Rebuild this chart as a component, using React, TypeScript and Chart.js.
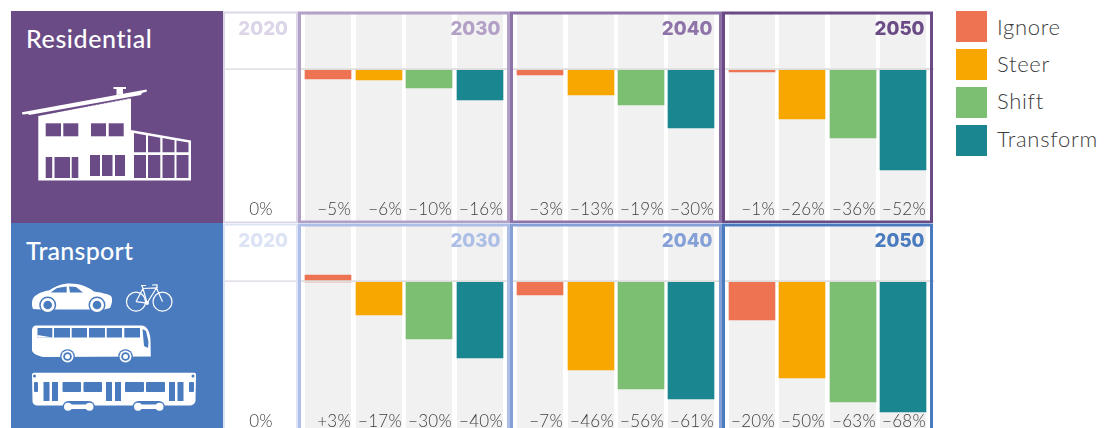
import React, { useEffect, useRef } from "react";
import { Chart, registerables } from "chart.js";

Chart.register(...registerables);

const categories = ["Ignore", "Steer", "Shift", "Transform"];
const categoryColors = ["#ee7353", "#f8a600", "#7cbe72", "#1a8790"];

const baseYear = ["2020"];
const baseValue = [0];
const baseLabel = ["0%"];

const residential2030 = [-4.7, -5.2, -9.4, -15.6];
const residential2040 = [-2.6, -13, -18.2, -30.2];
const residential2050 = [-1, -25.4, -35.3, -52.1];
const transport2030 = [3.6, -17.3, -29.8, -39.7];
const transport2040 = [-6.9, -46, -55.9, -61.1];
const transport2050 = [-19.9, -50, -62.5, -67.7];

const residential2030Labels = ["\u22125%", "\u22126%", "\u221210%", "\u221216%"];
const residential2040Labels = ["\u22123%", "\u221213%", "\u221219%", "\u221230%"];
const residential2050Labels = ["\u22121%", "\u221226%", "\u221236%", "\u221252%"];
const transport2030Labels = ["+3%", "\u221217%", "\u221230%", "\u221240%"];
const transport2040Labels = ["\u22127%", "\u221246%", "\u221256%", "\u221261%"];
const transport2050Labels = ["\u221220%", "\u221250%", "\u221263%", "\u221268%"];

const residentialTones = ["#dcd5e8", "#b3a0c6", "#8e73a8", "#6b4b86"];
const transportTones = ["#dbe3f5", "#adbfe6", "#84a0d6", "#4a7bbf"];

const FONT = "Lato, 'Open Sans', sans-serif";
const TEXT = "#3d3d3d";
const Y_MAX = 29.17;
const Y_MIN = -78.65;

const PANEL_LEFT = [298, 510, 722];
const PANEL_FRAME = [212, 212, 211];
const PANEL_PAD = [
  [4.67, 4.66],
  [5, 5.4],
  [4.7, 5.7],
];

type PanelProps = {
  left: number;
  top: number;
  width: number;
  frame: number;
  pad: number[];
  year: string;
  tone: string;
  labels: string[];
  values: number[];
  text: string[];
  colors: string[];
  base?: boolean;
};

const panelPlugin = (p: PanelProps) => ({
  id: "panel",
  beforeDatasetsDraw(chart: any) {
    const { ctx, chartArea } = chart;
    const meta = chart.getDatasetMeta(0);
    // Snap bars to whole pixels, as the original is crisp.
    meta.data.forEach((bar: any) => {
      const w = bar.width;
      bar.x = Math.round(bar.x - w / 2) + w / 2;
      bar.y = Math.round(bar.y);
      bar.base = Math.round(bar.base);
    });
    if (p.base) return;
    ctx.save();
    ctx.fillStyle = "#f1f1f1";
    meta.data.forEach((bar: any) => {
      const w = bar.width;
      ctx.fillRect(bar.x - w / 2, chartArea.top, w, chartArea.bottom - chartArea.top);
    });
    ctx.restore();
  },
  afterDatasetsDraw(chart: any) {
    const { ctx, scales, width } = chart;
    const zero = scales.y.getPixelForValue(0);
    ctx.save();
    ctx.strokeStyle = p.base ? "#e4e2e8" : "#dddddd";
    ctx.lineWidth = 1.7;
    ctx.beginPath();
    ctx.moveTo(0, zero - 0.8);
    ctx.lineTo(width, zero - 0.8);
    ctx.stroke();

    // Value labels
    ctx.fillStyle = TEXT;
    ctx.font = `300 17px ${FONT}`;
    ctx.textBaseline = "alphabetic";
    (ctx as any).letterSpacing = "0.3px";
    const meta = chart.getDatasetMeta(0);
    meta.data.forEach((bar: any, i: number) => {
      if (p.base) {
        ctx.textAlign = "center";
        ctx.fillText(p.text[i], bar.x, 204);
      } else {
        ctx.textAlign = "right";
        ctx.fillText(p.text[i], bar.x + bar.width / 2, 204);
      }
    });
    (ctx as any).letterSpacing = "0px";

    // Panel frame
    ctx.strokeStyle = p.tone;
    ctx.lineWidth = p.base ? 2 : 3;
    const inset = ctx.lineWidth / 2;
    ctx.strokeRect(inset, inset + 0.5, p.frame - inset * 2, 212 - inset * 2);

    // Year
    ctx.fillStyle = p.tone;
    ctx.font = `800 18.7px Inter, ${FONT}`;
    ctx.textAlign = "right";
    ctx.fillText(p.year, width - (p.base ? 10 : 9.5), 24);
    ctx.restore();
  },
});

function Panel(p: PanelProps) {
  const ref = useRef<HTMLCanvasElement>(null);
  useEffect(() => {
    const chart = new Chart(ref.current!, {
      type: "bar",
      data: {
        labels: p.labels,
        datasets: [
          {
            label: p.year,
            data: p.values,
            backgroundColor: p.colors,
            barThickness: 46,
            borderWidth: 0,
          },
        ],
      },
      options: {
        responsive: false,
        animation: false,
        devicePixelRatio: 1,
        layout: {
          padding: { left: p.pad[0], right: p.pad[1], top: 3, bottom: 2 },
        },
        plugins: { legend: { display: false }, tooltip: { enabled: false } },
        scales: {
          x: { display: false },
          y: { display: false, min: Y_MIN, max: Y_MAX },
        },
      },
      plugins: [panelPlugin(p)],
    } as any);
    return () => chart.destroy();
  }, []);
  return (
    <canvas
      ref={ref}
      width={p.width}
      height={212}
      style={{ position: "absolute", left: p.left, top: p.top, width: p.width, height: 212, display: "block" }}
    />
  );
}

function Row({ top, tones, series, text }: { top: number; tones: string[]; series: number[][]; text: string[][] }) {
  return (
    <>
      <Panel left={223} top={top} width={75} frame={75} pad={[2, 2]} year="2020" tone={tones[0]} labels={baseYear} values={baseValue} text={baseLabel} colors={["#ffffff"]} base />
      {[0, 1, 2].map((i) => (
        <Panel
          key={i}
          left={PANEL_LEFT[i]}
          top={top}
          width={212}
          frame={PANEL_FRAME[i]}
          pad={PANEL_PAD[i]}
          year={String(2030 + i * 10)}
          tone={tones[i + 1]}
          labels={categories}
          values={series[i]}
          text={text[i]}
          colors={categoryColors}
        />
      ))}
    </>
  );
}

function House({ c }: { c: string }) {
  const rects = [
    [45.7, 123.3, 15.3, 13], [63.3, 123.3, 15, 13], [91, 123.3, 15, 13], [108.7, 123.3, 15, 13],
    [45.7, 157, 6.5, 21], [54.5, 157, 15.5, 21], [71.7, 157, 6.6, 21],
    [90, 155, 10, 21], [102, 155, 10.5, 21], [115, 155, 10, 21],
    [134, 155, 12, 23], [148, 155, 12.3, 23], [162.5, 155, 12, 23], [176.5, 155, 12, 23],
  ];
  return (
    <svg width={223} height={223} style={{ position: "absolute", left: 0, top: 0 }}>
      <polygon points="22,112.3 146.5,89.5 147,91.6 142,93 141,95 29,115 28.5,114 22.3,114.5" fill="#fff" />
      <polygon points="113.5,87 126,87 126,89 123,89 123,94 116.5,95 116.5,89 113.5,89" fill="#fff" />
      <polygon points="38.3,116 131,98 131,130 191,140.5 191,180.5 38.3,180.5" fill="#fff" />
      {rects.map((r, i) => (
        <rect key={i} x={r[0]} y={r[1]} width={r[2]} height={r[3]} fill={c} />
      ))}
      <polygon points="134,133 146,135.2 146,152.3 134,152.3" fill={c} />
      <polygon points="148,135.5 160.3,137.7 160.3,152.3 148,152.3" fill={c} />
      <polygon points="162.5,138 174.5,140.2 174.5,152.3 162.5,152.3" fill={c} />
      <polygon points="176.5,140.5 188.5,142.5 188.5,152.3 176.5,152.3" fill={c} />
      <line x1="38" y1="115.3" x2="131" y2="98.3" stroke={c} strokeWidth="0.6" strokeDasharray="3 1" />
    </svg>
  );
}

function Vehicles({ c }: { c: string }) {
  const bus = [37.5, 54, 71.7, 89, 106.7, 124.3];
  const busW = [14.8, 16, 15.3, 16, 15.3, 15.7];
  const tramWin = [[34, 382, 4, 10], [62.5, 382, 18.5, 10], [83.5, 382, 18.5, 10], [125, 382, 19, 10], [146, 382, 19, 10], [189, 382, 5, 10]];
  const tramDoor = [43.5, 52, 106, 115, 169, 177.5];
  return (
    <svg width={223} height={428} style={{ position: "absolute", left: 0, top: 0 }}>
      {/* car */}
      <path d="M33,309 C31,304 32,298 35,296 C40,292 46,291 50,290 C56,286 62,283.5 70,283.5 C80,283.5 88,287 94,291.5 C101,292.5 108,294 111,296 C113,299 112,304 110,308 L104,309.5 L41,309.5 Z" fill="#fff" />
      <polygon points="50.5,292.5 57,288 66.7,286.5 66.7,292.5" fill={c} />
      <polygon points="69,286.5 76,287 83,292.5 70,292.5" fill={c} />
      {[47.7, 97].map((x) => (
        <g key={x}>
          <circle cx={x} cy={305} r={8.5} fill={c} />
          <circle cx={x} cy={305} r={7} fill="#fff" />
          <circle cx={x} cy={305} r={4.3} fill={c} />
        </g>
      ))}
      {/* bicycle */}
      <g fill="none" stroke="#fff" strokeWidth="1.2">
        <circle cx={136} cy={301.7} r={9.5} />
        <circle cx={162.5} cy={301.7} r={9.5} />
        <path d="M136,301.7 L143,288.5 L156.5,288 L147,303 L136,301.7 M143,288.5 L147,303 M141,285.5 L146,285.5 M141.8,285.5 L143,288.5 M156.5,288 L162.5,301.7 M152,285 L157,284.8 L157,288" />
      </g>
      <circle cx={147} cy={303} r={2} fill="#fff" />
      {/* bus */}
      <path d="M36,325.5 L142,325.5 C147,326 150,332 150.5,340 L150.8,356.5 L44,357 C38,356.5 32,353 32,350 L32,330 C32,327 34,325.5 36,325.5 Z" fill="#fff" />
      {bus.map((x, i) => (
        <rect key={i} x={x} y={328} width={busW[i]} height={9.5} fill={c} />
      ))}
      <polygon points="37.5,335 52.3,337.5 37.5,337.5" fill="#fff" />
      <polygon points="142.5,329 146,331 148.5,342 148,348 144,346" fill={c} />
      {[67.5, 125.5].map((x) => (
        <g key={x}>
          <circle cx={x} cy={356.5} r={7.3} fill={c} />
          <circle cx={x} cy={356.5} r={6} fill="#fff" />
          <circle cx={x} cy={356.5} r={4.3} fill={c} />
          <circle cx={x} cy={356.5} r={2.5} fill="#fff" />
        </g>
      ))}
      {/* tram */}
      <path d="M34,372.7 L194,372.7 C195.3,372.7 196,373.5 196,375 L195.5,401 C195,404 192,405.5 190,405.5 L38,405.5 C35,405.5 32.5,404 32.5,401 L32,375 C32,373.5 33,372.7 34,372.7 Z" fill="#fff" />
      {tramWin.map((r, i) => (
        <rect key={i} x={r[0]} y={r[1]} width={r[2]} height={r[3]} rx={1} fill={c} />
      ))}
      {tramDoor.map((x, i) => (
        <rect key={i} x={x} y={382} width={6} height={19} fill={c} />
      ))}
      <circle cx={34.5} cy={376} r={1.5} fill={c} />
      <circle cx={193} cy={376} r={1.5} fill={c} />
      {[[68, 89.5], [138, 159.5]].map(([a, b]) => (
        <g key={a}>
          <rect x={a - 5.5} y={401} width={b - a + 11} height={12} rx={6} fill={c} />
          <rect x={a} y={404.5} width={b - a} height={4.5} fill="#fff" />
          <circle cx={a} cy={406.7} r={4} fill="#fff" />
          <circle cx={b} cy={406.7} r={4} fill="#fff" />
        </g>
      ))}
    </svg>
  );
}

function Legend() {
  return (
    <>
      {categories.map((name, i) => (
        <React.Fragment key={name}>
          <div style={{ position: "absolute", left: 956, top: 11 + i * 38, width: 31, height: 31, background: categoryColors[i] }} />
          <div style={{ position: "absolute", left: 997, top: 10 + i * 37.2, height: 34, lineHeight: "34px", fontFamily: FONT, fontWeight: 300, fontSize: 22, letterSpacing: 0.7, color: TEXT, whiteSpace: "nowrap" }}>
            {name}
          </div>
        </React.Fragment>
      ))}
    </>
  );
}

function SideTitle({ top, text, spacing }: { top: number; text: string; spacing: number }) {
  return (
    <div style={{ position: "absolute", left: 26, top, fontFamily: FONT, fontWeight: 500, fontSize: 25, lineHeight: "30px", color: "#fff", whiteSpace: "nowrap", letterSpacing: spacing }}>
      {text}
    </div>
  );
}

export default function App() {
  return (
    <div style={{ position: "relative", width: 1115, height: 428, overflow: "hidden", background: "#fff" }}>
      <style>{"html,body{margin:0;padding:0;overflow:hidden;background:#fff}"}</style>
      <div style={{ position: "absolute", left: 11, top: 11, width: 212, height: 212, background: residentialTones[3] }} />
      <div style={{ position: "absolute", left: 11, top: 223, width: 212, height: 205, background: transportTones[3] }} />
      <House c={residentialTones[3]} />
      <Vehicles c={transportTones[3]} />
      <SideTitle top={23} text="Residential" spacing={0.6} />
      <SideTitle top={235} text="Transport" spacing={0.25} />
      <Row top={11} tones={residentialTones} series={[residential2030, residential2040, residential2050]} text={[residential2030Labels, residential2040Labels, residential2050Labels]} />
      <Row top={223} tones={transportTones} series={[transport2030, transport2040, transport2050]} text={[transport2030Labels, transport2040Labels, transport2050Labels]} />
      <Legend />
    </div>
  );
}
